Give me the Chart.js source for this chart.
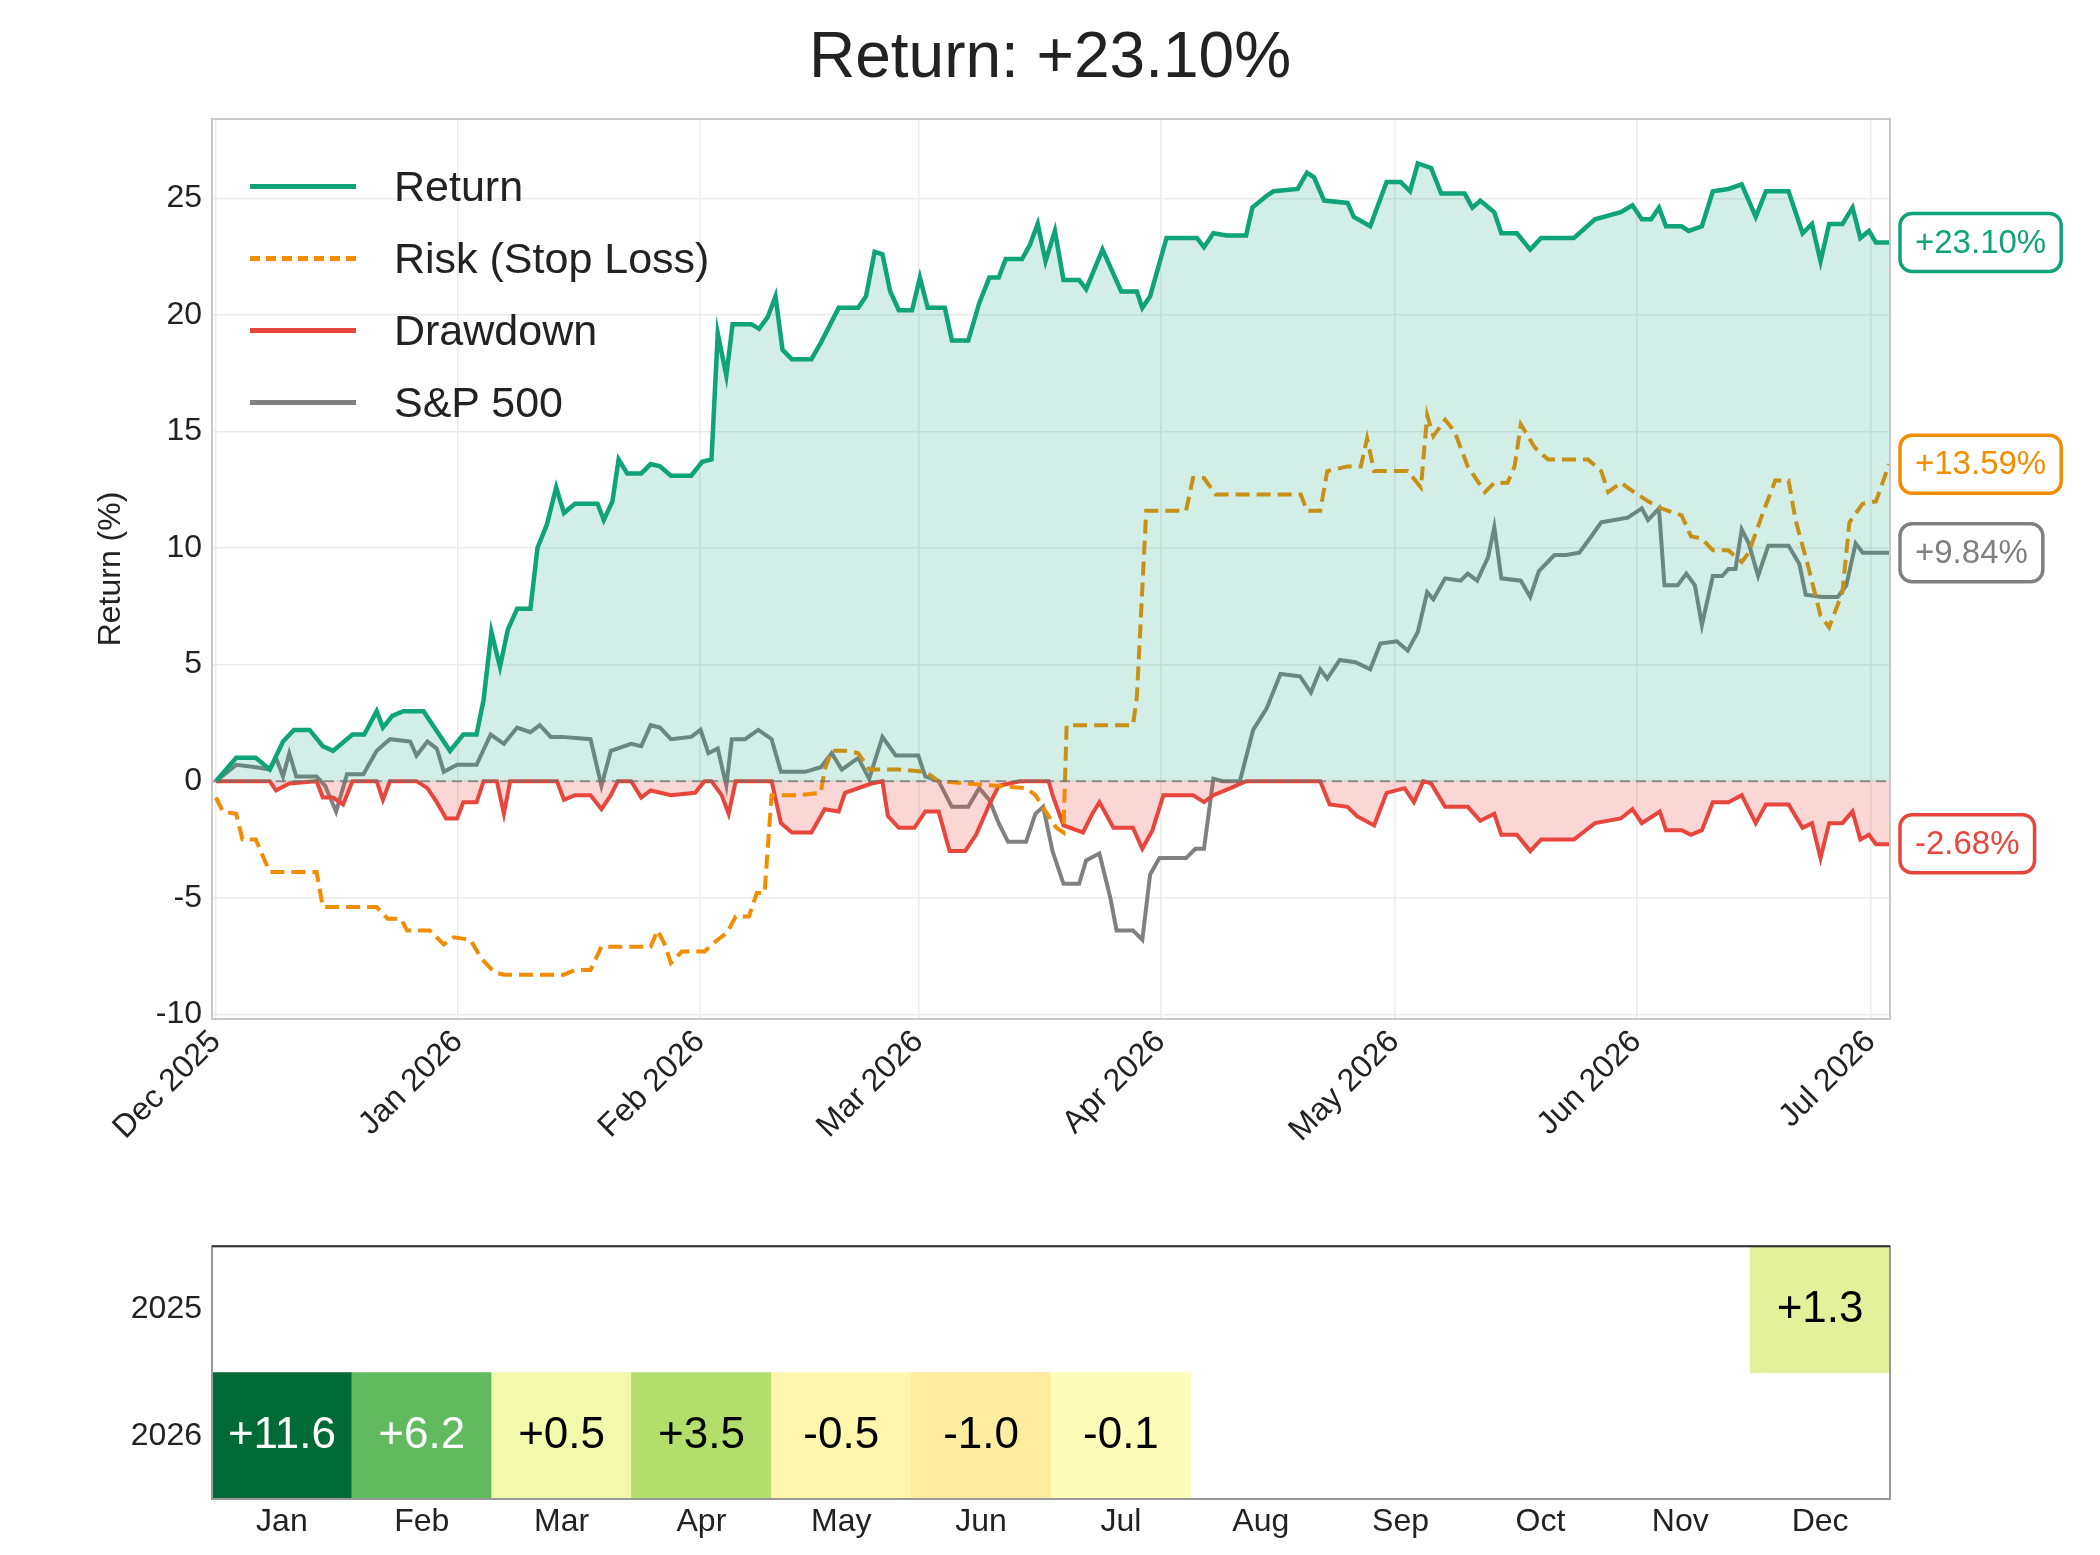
<!DOCTYPE html>
<html>
<head>
<meta charset="utf-8">
<script src="https://cdn.jsdelivr.net/npm/chart.js@4"></script>
<style>
  body { margin: 0; background: #fff; font-family: 'Liberation Sans', Arial, sans-serif; }
  #wrap { position: relative; width: 2100px; height: 1555px; }
  #main { position: absolute; left: 0; top: 0; }
  #heat { position: absolute; left: 0; top: 1217px; }
  #title { position: absolute; left: 0; width: 2100px; top: 18px; text-align: center; font-size: 64px; color: #222; }
  #legend { position: absolute; left: 250px; top: 150px; font-size: 43px; color: #222; }
  #legend div { height: 72px; display: flex; align-items: center; }
  #legend span.ln { display: inline-block; width: 106px; margin-right: 38px; border-top: 5px solid; }
</style>
</head>
<body>
<div id="wrap">
  <canvas id="main" width="2100" height="1230"></canvas>
  <canvas id="heat" width="2100" height="338"></canvas>
  <div id="title">Return: +23.10%</div>
  <div id="legend">
    <div><span class="ln" style="border-color:#0fa37a"></span>Return</div>
    <div><span class="ln" style="border-top-style:dashed;border-color:#f28c00"></span>Risk (Stop Loss)</div>
    <div><span class="ln" style="border-color:#e8453c"></span>Drawdown</div>
    <div><span class="ln" style="border-color:#808080"></span>S&amp;P 500</div>
  </div>
</div>
<script>
// days since 2025-12-01
const monthStarts = [0, 31, 62, 90, 121, 151, 182, 212];
const monthTickLabels = ['Dec 2025', 'Jan 2026', 'Feb 2026', 'Mar 2026', 'Apr 2026', 'May 2026', 'Jun 2026', 'Jul 2026'];

const retDays = [0,2.6,5.1,6.9,8.6,10,12,13.7,15,17.5,19,20.6,21.4,22.6,24,26.6,29,30,31.7,33.4,34.3,35.3,36.4,37.4,38.6,40.3,41.2,42.4,43.6,44.6,46,48.9,49.7,50.8,51.6,52.7,54.5,55.7,56.9,58.3,60.9,62.3,63.5,64.3,65.4,66.2,68.6,69.6,70.7,71.7,72.6,73.8,76.3,77.5,79.8,82.3,83.3,84.4,85.4,86.4,87.5,89.2,90.2,91.2,93.4,94.3,96.4,97.8,99.1,100.3,101.2,103.3,104.3,105.3,106.3,107.5,108.6,110.6,111.5,113.6,116,118,118.7,119.7,121.8,125.7,126.6,127.8,129.5,132,132.8,134.6,135.5,138.6,139.8,140.7,142,145,145.8,147.9,150,151.8,153,154,155.7,157,160,161,162,163.8,164.7,166.7,168.4,169.8,174,176.7,180,181.5,182.7,183.9,184.9,185.8,187.8,188.7,190.4,191.8,193.8,195.5,197.3,198.6,201.5,203.3,204.5,205.6,206.7,208.4,209.7,210.7,211.8,212.7,214.4];
const retVals = [0,1,1,0.5,1.7,2.2,2.2,1.5,1.3,2,2,3,2.3,2.8,3,3,1.8,1.3,2,2,3.5,6.4,4.9,6.5,7.4,7.4,10,11,12.6,11.5,11.9,11.9,11.2,12,13.8,13.2,13.2,13.6,13.5,13.1,13.1,13.7,13.8,19.2,17.4,19.6,19.6,19.4,19.9,20.8,18.5,18.1,18.1,18.8,20.3,20.3,20.8,22.7,22.6,21,20.2,20.2,21.6,20.3,20.3,18.9,18.9,20.5,21.6,21.6,22.4,22.4,23,23.9,22.3,23.6,21.5,21.5,21.1,22.8,21,21,20.3,20.8,23.3,23.3,22.9,23.5,23.4,23.4,24.6,25.1,25.3,25.4,26.1,25.9,24.9,24.8,24.2,23.8,25.7,25.7,25.3,26.5,26.3,25.2,25.2,24.6,24.9,24.4,23.5,23.5,22.8,23.3,23.3,24.1,24.4,24.7,24.1,24.1,24.6,23.8,23.8,23.6,23.8,25.3,25.4,25.6,24.2,25.3,25.3,23.5,23.9,22.3,23.9,23.9,24.6,23.3,23.6,23.1,23.1];

const riskDays = [0,0.9,2.6,3.4,5.1,6.9,12.9,13.7,20.6,22,23.7,24.5,27.4,29.2,30.5,32.6,34,35.7,36.9,44.6,46,48,49.4,55.7,56.6,57.5,58.3,59.7,62.6,64.3,65.5,66.6,68.3,69.3,70.3,71.2,74.6,77.5,78,78.9,81,82.3,83.7,87.5,90.9,92.6,103.8,105,106.3,107.7,108.6,109,117.5,118,119.2,124.3,125.2,126.6,128.1,139,139.8,141.5,142.4,145,146.7,147.5,148.4,152.7,154.4,155.2,156,157.5,158.7,160.4,162.6,163.8,165.5,166.4,167.2,169,170.7,175.8,177.5,178.4,180,181.7,183.5,185.2,187.8,189,190.4,191.8,193.8,195.5,196.4,198.1,199.8,201.5,202.4,204.1,205.6,206.7,208.4,209.3,211,212.7,214.4];
const riskVals = [-0.7,-1.3,-1.4,-2.5,-2.5,-3.9,-3.9,-5.4,-5.4,-5.9,-5.9,-6.4,-6.4,-7,-6.7,-6.8,-7.6,-8.2,-8.3,-8.3,-8.1,-8.1,-7.1,-7.1,-6.4,-7,-7.8,-7.3,-7.3,-6.8,-6.5,-5.8,-5.8,-4.8,-4.8,-0.6,-0.6,-0.5,0.5,1.3,1.3,1.2,0.5,0.5,0.4,0,-0.3,-0.6,-1.3,-2,-2.2,2.4,2.4,3.6,11.6,11.6,13,13,12.3,12.3,11.6,11.6,13.3,13.5,13.5,14.7,13.3,13.3,12.6,15.7,14.8,15.5,15,13.5,12.4,12.8,12.8,13.5,15.3,14.3,13.8,13.8,13.3,12.4,12.8,12.4,12,11.7,11.4,10.5,10.4,9.9,9.9,9.4,9.8,11.4,12.9,12.9,11.2,9.1,7.1,6.6,8.1,11.1,11.9,12,13.6];

const ddDays = [0,6.9,7.7,9.4,12.9,13.7,15,16.3,17.5,20.6,21.4,22.3,25.7,27.1,28.3,29.5,30.9,31.7,33.4,34.3,36,36.9,37.7,43.7,44.6,46,48,49.4,50.6,51.5,53.2,54.5,55.7,58.3,61.4,62.6,63.5,64.8,65.7,66.6,71.2,72.4,73.8,76.3,78,79.8,80.6,84,85.4,86.1,87.5,89.5,90.9,92.6,94,96,97.4,99.1,100.3,103,106.7,107.2,108.6,111.1,112.3,113.2,115,117.5,118.7,120,121.4,125.2,126.6,127.8,130,132,141.5,142.7,145,146.2,148.4,150,152.3,153.5,154.7,155.7,157.5,160.4,162,163.8,164.7,166.7,168.4,169.8,174,176.7,180,181.5,182.7,185,185.8,187.8,189,190.4,191.8,193.8,195.5,197.3,198.6,201.5,203.3,204.5,205.6,206.7,208.4,209.7,210.7,211.8,212.7,214.4];
const ddVals = [0,0,-0.4,-0.1,0,-0.7,-0.7,-1,0,0,-0.8,0,0,-0.3,-0.9,-1.6,-1.6,-0.9,-0.9,0,0,-1.4,0,0,-0.8,-0.6,-0.6,-1.2,-0.6,0,0,-0.7,-0.4,-0.6,-0.5,0,0,-0.6,-1.4,0,0,-1.8,-2.2,-2.2,-1.2,-1.3,-0.5,-0.1,0,-1.5,-2,-2,-1.3,-1.3,-3,-3,-2.3,-1,-0.2,0,0,-0.6,-1.9,-2.2,-1.4,-0.9,-2,-2,-2.9,-2.1,-0.6,-0.6,-0.9,-0.6,-0.3,0,0,-1,-1.1,-1.5,-1.9,-0.5,-0.3,-0.9,0,-0.1,-1.1,-1.1,-1.7,-1.4,-2.3,-2.3,-3,-2.5,-2.5,-1.8,-1.6,-1.2,-1.8,-1.3,-2.1,-2.1,-2.3,-2.1,-0.9,-0.9,-0.6,-1.8,-1,-1,-2,-1.8,-3.3,-1.8,-1.8,-1.3,-2.5,-2.3,-2.7,-2.7];

const spDays = [0,2.6,5.1,6.9,7.7,8.6,9.4,10.3,12.9,14,15.4,16.8,18.9,20.6,22.3,24.9,25.7,27.1,28.3,29.2,30.9,33.4,35.2,36.9,38.6,40.3,41.5,42.9,44.3,48,49.4,50.6,53.2,54.5,55.7,56.9,58.3,60.9,62.1,63.1,64.3,65.4,66.1,67.8,69.5,71.2,72.4,75.5,77.5,78.9,80.2,82.3,83.7,85.4,87.1,90,90.9,92.6,94.3,96.4,97.8,99.1,100.3,101.5,103.8,105,106,107.2,108.6,110.6,111.5,113.2,114.6,115.4,117.5,118.7,119.7,120.9,124.3,125.5,126.6,127.8,129,131.2,132.9,134.6,136.4,138.9,140.3,141.5,142.4,144,146,147.9,149.2,151.3,152.7,154,155.2,156,157.5,159.5,160.4,161.6,163,163.8,164.7,167.2,168.4,169.5,171.5,173,174.7,175.8,177.5,179.2,180.9,182.7,183.5,184.9,185.6,187.3,188.4,189.5,190.4,191.8,193,193.8,194.7,195.5,196.4,197.6,198.9,201.5,202.9,203.7,205.8,207.8,208.9,210.1,211,214.4];
const spVals = [0,0.7,0.6,0.5,1,0.2,1.2,0.2,0.2,-0.2,-1.3,0.3,0.3,1.3,1.8,1.7,1.1,1.7,1.4,0.4,0.7,0.7,2,1.6,2.3,2.1,2.4,1.9,1.9,1.8,-0.2,1.3,1.6,1.5,2.4,2.3,1.8,1.9,2.2,1.2,1.4,-0.2,1.8,1.8,2.2,1.8,0.4,0.4,0.6,1.2,0.5,1,0.1,1.9,1.1,1.1,0.2,0,-1.1,-1.1,-0.3,-0.8,-1.8,-2.6,-2.6,-1.4,-1.1,-3,-4.4,-4.4,-3.4,-3.1,-5,-6.4,-6.4,-6.8,-4,-3.3,-3.3,-2.9,-2.9,0.1,0,0,2.2,3.1,4.6,4.5,3.8,4.8,4.4,5.2,5.1,4.8,5.9,6,5.6,6.4,8.1,7.8,8.7,8.6,8.9,8.6,9.6,10.9,8.7,8.6,7.9,9,9.7,9.7,9.8,10.3,11.1,11.2,11.3,11.7,11.2,11.7,8.4,8.4,8.9,8.4,6.7,8.8,8.8,9.1,9.1,10.8,10.2,8.8,10.1,10.1,9.3,8,7.9,7.9,8.4,10.2,9.8,9.8];

// monthly heatmap
const months = ['Jan','Feb','Mar','Apr','May','Jun','Jul','Aug','Sep','Oct','Nov','Dec'];
const monthly2025 = [null,null,null,null,null,null,null,null,null,null,null,1.3];
const monthly2026 = [11.6,6.2,0.5,3.5,-0.5,-1.0,-0.1,null,null,null,null,null];
const colors2025 = [null,null,null,null,null,null,null,null,null,null,null,'#e3f29a'];
const colors2026 = ['#006b37','#62ba5e','#f3f9ab','#b3de6c','#fff6ae','#feed9f','#fefcb9',null,null,null,null,null];

const C = { ret: '#0fa37a', risk: '#f28c00', dd: '#e8453c', sp: '#808080' };
const pts = (d, v) => d.map((x, i) => ({ x: x, y: v[i] }));
const font = { family: "'Liberation Sans', Arial, sans-serif", size: 32 };

const endLabels = {
  id: 'endLabels',
  afterDraw(chart) {
    const ctx = chart.ctx, y = chart.scales.y, a = chart.chartArea;
    // zero line
    ctx.save();
    ctx.setLineDash([10, 6]);
    ctx.strokeStyle = 'rgba(110,110,110,0.7)';
    ctx.lineWidth = 2;
    ctx.beginPath();
    ctx.moveTo(a.left, y.getPixelForValue(0));
    ctx.lineTo(a.right, y.getPixelForValue(0));
    ctx.stroke();
    ctx.setLineDash([]);
    const items = [
      ['+23.10%', retVals[retVals.length - 1], C.ret],
      ['+13.59%', 13.59, C.risk],
      ['+9.84%', spVals[spVals.length - 1], C.sp],
      ['-2.68%', -2.68, C.dd]
    ];
    ctx.font = "33px 'Liberation Sans', Arial, sans-serif";
    ctx.textBaseline = 'middle';
    items.forEach(([t, v, c]) => {
      const py = y.getPixelForValue(v);
      const w = ctx.measureText(t).width + 30, h = 58, x0 = a.right + 10;
      ctx.fillStyle = '#fff';
      ctx.strokeStyle = c;
      ctx.lineWidth = 3.5;
      ctx.beginPath();
      ctx.roundRect(x0, py - h / 2, w, h, 12);
      ctx.fill();
      ctx.stroke();
      ctx.fillStyle = c;
      ctx.fillText(t, x0 + 15, py + 1);
    });
    ctx.restore();
  }
};

new Chart(document.getElementById('main'), {
  type: 'line',
  data: {
    datasets: [
      { data: pts(retDays, retVals), borderColor: C.ret, backgroundColor: 'rgba(15,163,122,0.19)', fill: 'origin', borderWidth: 4.5 },
      { data: pts(riskDays, riskVals), borderColor: C.risk, borderDash: [14, 7], fill: false, borderWidth: 4 },
      { data: pts(ddDays, ddVals), borderColor: C.dd, backgroundColor: 'rgba(232,69,60,0.22)', fill: 'origin', borderWidth: 4 },
      { data: pts(spDays, spVals), borderColor: C.sp, fill: false, borderWidth: 4 }
    ]
  },
  options: {
    responsive: false,
    animation: false,
    layout: { padding: { top: 119, right: 210, left: 88 } },
    elements: { point: { radius: 0 }, line: { tension: 0 } },
    plugins: { legend: { display: false }, tooltip: { enabled: false } },
    scales: {
      x: {
        type: 'linear', min: -0.5, max: 214.5,
        afterBuildTicks: s => { s.ticks = monthStarts.map(v => ({ value: v })); },
        afterFit: s => { s.height = 211; },
        ticks: { font: font, color: '#222', maxRotation: 45, minRotation: 45, padding: 4,
          callback: v => monthTickLabels[monthStarts.indexOf(v)] },
        grid: { color: '#ebebeb', lineWidth: 1.5, drawTicks: false },
        border: { color: '#c8c8c8', width: 2 }
      },
      y: {
        min: -10.2, max: 28.4,
        afterBuildTicks: s => { s.ticks = [-10, -5, 0, 5, 10, 15, 20, 25].map(v => ({ value: v })); },
        afterFit: s => { s.width = 124; },
        ticks: { font: font, color: '#222', padding: 10 },
        grid: { color: '#ebebeb', lineWidth: 1.5, drawTicks: false },
        border: { color: '#c8c8c8', width: 2 },
        title: { display: true, text: 'Return (%)', font: font, color: '#222', padding: { bottom: 10 } }
      }
    }
  },
  plugins: [endLabels, {
    id: 'frame',
    afterDraw(chart) {
      const a = chart.chartArea, ctx = chart.ctx;
      ctx.save();
      ctx.strokeStyle = '#c8c8c8';
      ctx.lineWidth = 2;
      ctx.strokeRect(a.left, a.top, a.right - a.left, a.bottom - a.top);
      ctx.restore();
    }
  }]
});

const cellText = {
  id: 'cellText',
  afterDatasetsDraw(chart) {
    const ctx = chart.ctx;
    ctx.save();
    ctx.font = "44px 'Liberation Sans', Arial, sans-serif";
    ctx.textAlign = 'center';
    ctx.textBaseline = 'middle';
    chart.data.datasets.forEach((ds, di) => {
      const meta = chart.getDatasetMeta(di);
      ds.values.forEach((v, i) => {
        if (v === null) return;
        const el = meta.data[i];
        ctx.fillStyle = Math.abs(v) > 5 ? '#fff' : '#000';
        ctx.fillText((v >= 0 ? '+' : '') + v.toFixed(1), el.x, (el.y + el.base) / 2);
      });
    });
    const a = chart.chartArea;
    ctx.strokeStyle = '#999';
    ctx.lineWidth = 2;
    ctx.strokeRect(a.left, a.top, a.right - a.left, a.bottom - a.top);
    ctx.strokeStyle = '#333';
    ctx.beginPath();
    ctx.moveTo(a.left, a.top);
    ctx.lineTo(a.right, a.top);
    ctx.stroke();
    ctx.restore();
  }
};

new Chart(document.getElementById('heat'), {
  type: 'bar',
  data: {
    labels: months,
    datasets: [
      { values: monthly2025, data: monthly2025.map(v => v === null ? null : [1, 2]), backgroundColor: colors2025 },
      { values: monthly2026, data: monthly2026.map(v => v === null ? null : [0, 1]), backgroundColor: colors2026 }
    ]
  },
  options: {
    responsive: false,
    animation: false,
    layout: { padding: { top: 26, right: 210 } },
    datasets: { bar: { grouped: false, barPercentage: 1, categoryPercentage: 1, borderWidth: 0 } },
    plugins: { legend: { display: false }, tooltip: { enabled: false } },
    scales: {
      x: {
        afterFit: s => { s.height = 56; },
        ticks: { font: font, color: '#222', padding: 4 },
        grid: { display: false, drawTicks: false },
        border: { display: false }
      },
      y: {
        min: 0, max: 2,
        afterBuildTicks: s => { s.ticks = [{ value: 0.5 }, { value: 1.5 }]; },
        afterFit: s => { s.width = 212; },
        ticks: { font: font, color: '#222', padding: 10, callback: v => v === 1.5 ? '2025' : '2026' },
        grid: { display: false, drawTicks: false },
        border: { display: false }
      }
    }
  },
  plugins: [cellText]
});
</script>
</body>
</html>
